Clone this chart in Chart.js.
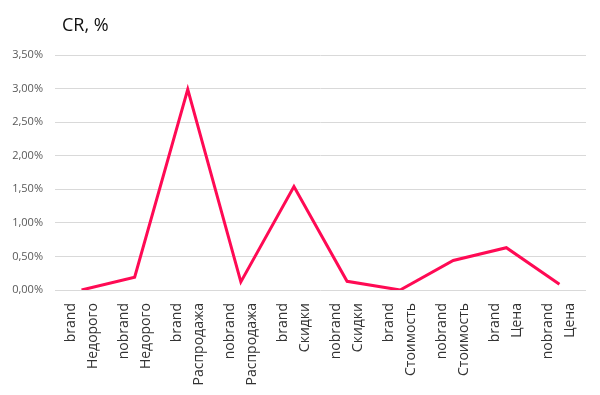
<!DOCTYPE html>
<html>
<head>
<meta charset="utf-8">
<script src="https://cdn.jsdelivr.net/npm/chart.js@4"></script>
<style>
  html, body { margin: 0; padding: 0; background: #fff; }
  #wrap { position: relative; width: 600px; height: 395px; }
  #title {
    position: absolute; left: 62px; top: 12px;
    font-family: "Open Sans", sans-serif; font-size: 18px; color: #111;
  }
</style>
</head>
<body>
<div id="wrap">
  <div id="title">CR, %</div>
  <canvas id="crChart" width="600" height="395"></canvas>
</div>
<script>
  // categories: [type, query]
  const brands = ["brand", "nobrand", "brand", "nobrand", "brand", "nobrand", "brand", "nobrand", "brand", "nobrand"];
  const queries = ["Недорого", "Недорого", "Распродажа", "Распродажа", "Скидки", "Скидки", "Стоимость", "Стоимость", "Цена", "Цена"];
  const crValues = [0.0, 0.19, 2.99, 0.12, 1.54, 0.13, 0.0, 0.44, 0.63, 0.085];
  const yTicks = [0, 0.5, 1, 1.5, 2, 2.5, 3, 3.5];

  const labels = brands.map((b, i) => [b, queries[i]]);

  const ctx = document.getElementById("crChart").getContext("2d");
  new Chart(ctx, {
    type: "line",
    data: {
      labels: labels,
      datasets: [
        {
          label: "CR",
          data: crValues,
          borderColor: "#ff0a54",
          borderWidth: 3,
          pointRadius: 0,
          tension: 0,
          fill: false,
        },
      ],
    },
    options: {
      responsive: false,
      animation: false,
      layout: { padding: { top: 55, left: 10, right: 14, bottom: 0 } },
      plugins: {
        legend: { display: false },
        tooltip: { enabled: false },
      },
      scales: {
        x: {
          offset: true,
          grid: { display: false },
          border: { display: false },
          ticks: {
            autoSkip: false,
            minRotation: 90,
            maxRotation: 90,
            padding: 5,
            labelOffset: -11,
            color: "#333",
            font: { family: "Open Sans", size: 14, lineHeight: "22px" },
          },
          afterFit: (scale) => {
            scale.height = 105;
            scale.paddingLeft = 0;
            scale.paddingRight = 0;
          },
        },
        y: {
          min: 0,
          max: 3.5,
          afterBuildTicks: (scale) => {
            scale.ticks = yTicks.map((v) => ({ value: v }));
          },
          grid: { color: "#d9d9d9", drawTicks: false },
          border: { display: false },
          ticks: {
            padding: 12,
            color: "#595959",
            font: { family: "Open Sans", size: 11 },
            callback: (v) => v.toFixed(2).replace(".", ",") + "%",
          },
          afterFit: (scale) => { scale.width = 45; },
        },
      },
    },
  });
</script>
</body>
</html>
